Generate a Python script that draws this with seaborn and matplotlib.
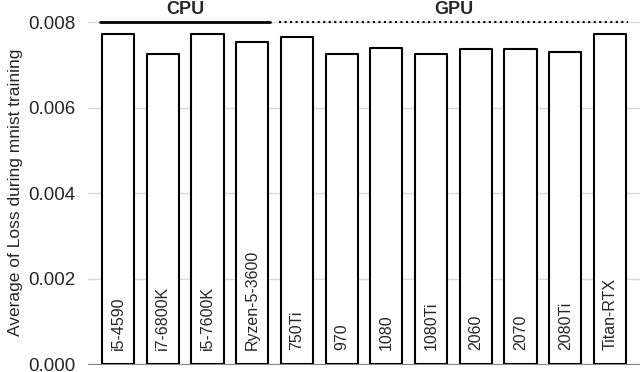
import pandas as pd
import numpy as np
import matplotlib.pyplot as plt
import seaborn as sns

# Loss values
devices = ['i5-4590', 'i7-6800K', 'i5-7600K', 'Ryzen-5-3600', '750Ti', '970',
           '1080', '1080Ti', '2060', '2070', '2080Ti', 'Titan-RTX']
loss = [0.00772, 0.00726, 0.00772, 0.00754, 0.00766, 0.00726,
        0.00740, 0.00726, 0.00738, 0.00738, 0.00731, 0.00771]
groups = ['CPU', 'GPU']
group_sizes = [4, 8]

df = pd.DataFrame({'Device': devices, 'Loss': loss})

sns.set_style('white')
plt.rcParams['font.family'] = ['Liberation Sans', 'DejaVu Sans']

fig = plt.figure(figsize=(6.4, 3.72), dpi=100)
ax = fig.add_axes([0.1375, 0.0215, 0.8625, 0.925])

sns.barplot(data=df, x='Device', y='Loss', color='white', edgecolor='black',
            linewidth=1.5, width=0.72, ax=ax, zorder=3)
for p in ax.patches:
    p.set_joinstyle('round')

# device names inside bars
for i, name in enumerate(devices):
    ax.text(i, 0.00032, name, rotation=90, ha='center', va='bottom',
            fontsize=11.5, zorder=4)

ax.set_xlim(-0.67, len(devices) - 0.33)
ax.set_ylim(0, 0.00805)
ax.set_yticks([0, 0.002, 0.004, 0.006, 0.008])
ax.set_yticklabels(['0.000', '0.002', '0.004', '0.006', '0.008'], fontsize=13.5)
ax.yaxis.grid(True, color='#d9d9d9', linewidth=1, zorder=0)
ax.set_xticks([])
ax.set_xlabel('')
ax.set_ylabel('Average of Loss during mnist training', fontsize=12.5, labelpad=4)
for s in ['top', 'right', 'left']:
    ax.spines[s].set_visible(False)
ax.spines['bottom'].set_color('#888888')
ax.tick_params(axis='y', length=0, pad=9)

# group brackets
start = 0
styles = ['-', ':']
for g, n, ls in zip(groups, group_sizes, styles):
    x0, x1 = start - 0.4, start + n - 1 + 0.4
    ax.plot([x0, x1], [0.008, 0.008], color='black', linestyle=ls,
            linewidth=2 if ls == '-' else 1.5, clip_on=False, zorder=5)
    ax.annotate(g, ((x0 + x1) / 2, 0.008), xytext=(0, 3), textcoords='offset points',
                ha='center', va='bottom', fontsize=13, fontweight='bold',
                annotation_clip=False)
    start += n

fig.savefig('out.png', dpi=100)
